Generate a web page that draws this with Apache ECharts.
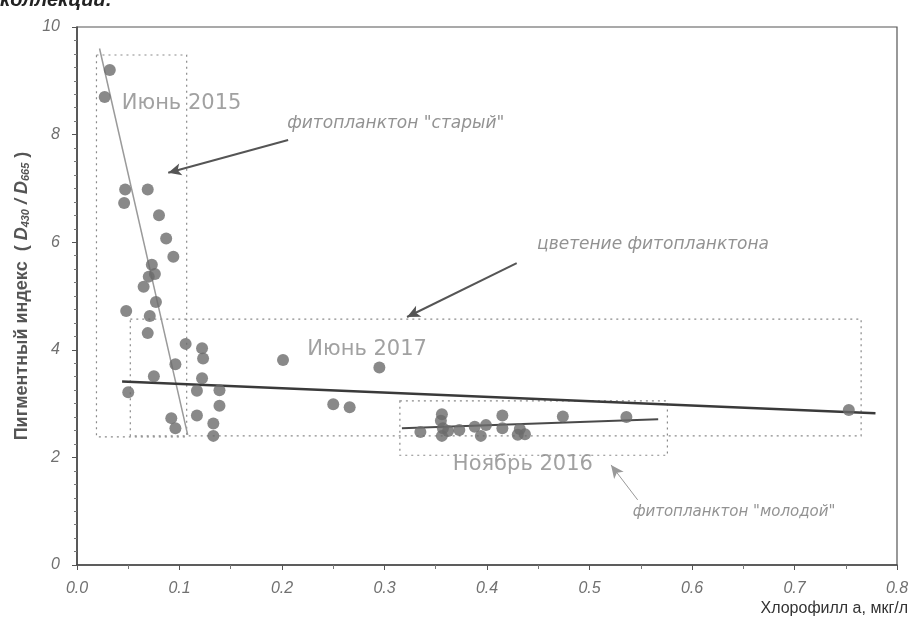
<!DOCTYPE html>
<html>
<head>
<meta charset="utf-8">
<script src="https://cdn.jsdelivr.net/npm/echarts@6/dist/echarts.min.js"></script>
<style>
html,body{margin:0;padding:0;background:#fff;}
#chart{width:914px;height:623px;}
</style>
</head>
<body>
<div id="chart"></div>
<script>
// ---------- data ----------
var xTicks = [0.0, 0.1, 0.2, 0.3, 0.4, 0.5, 0.6, 0.7, 0.8];
var yTicks = [0, 2, 4, 6, 8, 10];

var june2015 = [[0.032,9.20],[0.027,8.70],[0.047,6.98],[0.069,6.98],[0.046,6.73],[0.080,6.50],[0.087,6.07],[0.094,5.73],[0.073,5.58],[0.070,5.36],[0.076,5.41],[0.065,5.17],[0.077,4.89],[0.048,4.72],[0.071,4.63],[0.069,4.31],[0.096,3.73],[0.075,3.51],[0.050,3.21],[0.092,2.73],[0.096,2.54]];
var june2017 = [[0.106,4.11],[0.122,4.03],[0.123,3.84],[0.122,3.47],[0.117,3.24],[0.139,3.25],[0.139,2.96],[0.117,2.78],[0.133,2.63],[0.133,2.40],[0.201,3.81],[0.295,3.67],[0.250,2.99],[0.266,2.93],[0.753,2.88]];
var nov2016 = [[0.335,2.47],[0.356,2.80],[0.355,2.68],[0.357,2.54],[0.356,2.40],[0.362,2.49],[0.373,2.51],[0.388,2.57],[0.394,2.40],[0.399,2.60],[0.415,2.78],[0.415,2.54],[0.432,2.53],[0.437,2.43],[0.430,2.42],[0.474,2.76],[0.536,2.75]];

// trend lines (endpoints)
var trend2015 = [[0.022,9.60],[0.108,2.42]];
var trend2017 = [[0.044,3.41],[0.779,2.82]];
var trend2016 = [[0.317,2.54],[0.567,2.71]];

// dotted group boxes [x1,y1,x2,y2]
var box2015 = [0.019,9.48,0.107,2.38];
var box2017 = [0.052,4.57,0.765,2.40];
var box2016 = [0.315,3.05,0.576,2.04];

// group labels
var groupLabels = [
  {name:'Июнь 2015', value:[0.102,8.57]},
  {name:'Июнь 2017', value:[0.283,4.00]},
  {name:'Ноябрь 2016', value:[0.435,1.86]}
];
// italic annotations
var notes = [
  {name:'фитопланктон "старый"', value:[0.311,8.20], size:17},
  {name:'цветение фитопланктона', value:[0.562,5.95], size:17},
  {name:'фитопланктон "молодой"', value:[0.641,0.99], size:15}
];
// annotation arrows [from, to]
var arrows = [
  [[0.206,7.90],[0.089,7.29]],
  [[0.429,5.61],[0.322,4.61]],
  [[0.547,1.21],[0.521,1.86]]
];

var dotColor = '#6b6b6b';

function boxArea(b){ return [{coord:[b[0],b[1]]},{coord:[b[2],b[3]]}]; }

var chart = echarts.init(document.getElementById('chart'), null, {renderer:'canvas'});

var option = {
  backgroundColor:'#ffffff',
  animation:false,
  grid:{left:77, right:17, top:27, bottom:58, show:true, borderColor:'#555', borderWidth:1.2, backgroundColor:'transparent'},
  graphic:[
    {type:'text', left:0, top:-10, style:{text:'коллекции:', fontSize:20, fontWeight:'bold', fontStyle:'italic', fontFamily:'Liberation Sans', fill:'#222'}}
  ],
  xAxis:{
    type:'value', min:xTicks[0], max:xTicks[xTicks.length-1], interval:0.1,
    axisLine:{show:true, onZero:false, lineStyle:{color:'#444', width:1.5}},
    axisTick:{show:true, length:5, lineStyle:{color:'#555'}},
    minorTick:{show:true, splitNumber:2, length:4, lineStyle:{color:'#777'}},
    splitLine:{show:false},
    axisLabel:{margin:16, fontSize:16, fontStyle:'italic', color:'#707070', fontFamily:'Liberation Sans',
      formatter:function(v){return v.toFixed(1);}},
    name:'Хлорофилл а, мкг/л', nameLocation:'end', nameGap:11,
    nameTextStyle:{fontSize:16, color:'#333', fontFamily:'Liberation Sans', align:'right', verticalAlign:'top', padding:[36,0,0,0]}
  },
  yAxis:{
    type:'value', min:yTicks[0], max:yTicks[yTicks.length-1], interval:2,
    axisLine:{show:true, onZero:false, lineStyle:{color:'#444', width:1.5}},
    axisTick:{show:true, length:5, lineStyle:{color:'#555'}},
    minorTick:{show:true, splitNumber:8, length:3, lineStyle:{color:'#777'}},
    splitLine:{show:false},
    axisLabel:{margin:17, fontSize:16, fontStyle:'italic', color:'#707070', fontFamily:'Liberation Sans'},
    name:'Пигментный индекс  ( {it|D}{sub|430}{it| / D}{sub|665} )',
    nameLocation:'middle', nameGap:46,
    nameTextStyle:{fontSize:18, fontWeight:'bold', color:'#555', fontFamily:'Liberation Sans',
      rich:{
        it:{fontSize:18, fontStyle:'italic', fontWeight:'bold', color:'#555', fontFamily:'Liberation Sans'},
        sub:{fontSize:11, fontStyle:'italic', fontWeight:'bold', color:'#555', fontFamily:'Liberation Sans', verticalAlign:'bottom', padding:[7,0,0,0]}
      }}
  },
  series:[
    {type:'line', name:'trend2015', data:trend2015, symbol:'none', silent:true,
      lineStyle:{color:'#9a9a9a', width:1.5}, z:2},
    {type:'line', name:'trend2017', data:trend2017, symbol:'none', silent:true,
      lineStyle:{color:'#3a3a3a', width:2.5}, z:2,
      markArea:{silent:true, itemStyle:{color:'rgba(0,0,0,0)', borderColor:'#8a8a8a', borderWidth:1.2, borderType:[2,4]},
        data:[boxArea(box2015), boxArea(box2017), boxArea(box2016)]}
    },
    {type:'line', name:'trend2016', data:trend2016, symbol:'none', silent:true,
      lineStyle:{color:'#4a4a4a', width:2}, z:2,
      markLine:{silent:true, symbol:['none','arrow'], symbolSize:[9,13], label:{show:false},
        lineStyle:{color:'#555', width:2, type:'solid'},
        data:arrows.map(function(a,i){
          var ls = i===2 ? {color:'#999', width:1} : {color:'#555', width:2};
          return [{coord:a[0], lineStyle:ls},{coord:a[1]}];
        })}
    },
    {type:'scatter', name:'Июнь 2015', data:june2015, symbolSize:12, itemStyle:{color:dotColor}, z:5},
    {type:'scatter', name:'Июнь 2017', data:june2017, symbolSize:12, itemStyle:{color:dotColor}, z:5},
    {type:'scatter', name:'Ноябрь 2016', data:nov2016, symbolSize:12, itemStyle:{color:dotColor}, z:5},
    {type:'scatter', name:'labels', data:groupLabels, symbolSize:0, silent:true, z:6,
      label:{show:true, position:'inside', formatter:'{b}', fontSize:21, color:'#8a8a8a', fontFamily:'DejaVu Sans'}},
    {type:'scatter', name:'notes', silent:true, z:6, symbolSize:0,
      data:notes.map(function(n){
        return {name:n.name, value:n.value, label:{fontSize:n.size}};
      }),
      label:{show:true, position:'inside', formatter:'{b}', fontStyle:'italic', color:'#777', fontFamily:'DejaVu Sans'}}
  ]
};
chart.setOption(option);
</script>
</body>
</html>
